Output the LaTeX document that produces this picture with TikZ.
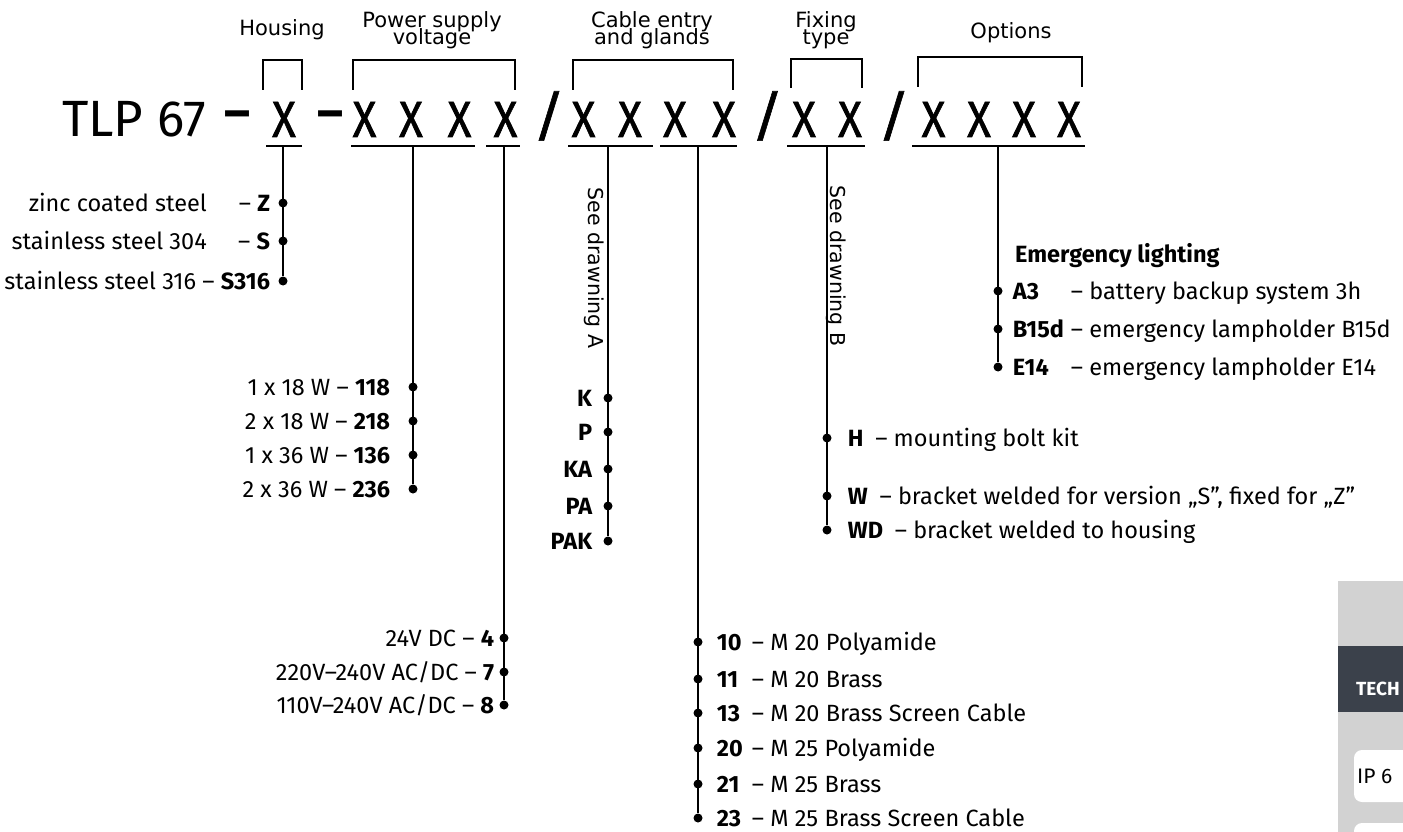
\documentclass[tikz,border=0pt]{standalone}
\usepackage{fontspec}
\setmainfont{Fira Sans}
\newfontfamily\headfont{DejaVu Sans}
\newfontfamily\xfont[FakeStretch=0.86, FakeBold=1.2]{Fira Sans}
\newfontfamily\slashfont[FakeBold=1]{DejaVu Sans}
\usetikzlibrary{positioning}
\definecolor{panelgray}{HTML}{D2D2D2}
\definecolor{paneldark}{HTML}{3B414B}
\newcommand\headsize{\fontsize{21}{16.5}\selectfont\lineskiplimit-30pt\relax}

\begin{document}
\begin{tikzpicture}[x=1pt, y=-1pt,
    bigx/.style={font=\xfont\fontsize{51}{51}\selectfont, inner sep=0pt, anchor=base},
    bigslash/.style={font=\slashfont\fontsize{60}{60}\selectfont, inner sep=0pt, anchor=base},
    bigdash/.style={font=\fontsize{50}{50}\selectfont\bfseries, inner sep=0pt, anchor=base},
    tlp/.style={font=\fontsize{51}{51}\selectfont, inner sep=0pt},
    head/.style={font=\headfont\headsize, align=center, inner sep=0pt},
    seetxt/.style={font=\headfont\fontsize{20.5}{20.5}\selectfont, inner sep=0pt, rotate=-90},
    lbl/.style={font=\fontsize{23.5}{23.5}\selectfont, inner sep=0pt,
        text height=16pt, text depth=0pt},
    codelbl/.style={lbl, font=\fontsize{23.5}{23.5}\selectfont\bfseries},
    dot/.style={circle, fill=black, inner sep=0pt, minimum size=9pt},
    wire/.style={line width=1.3pt},
    thickwire/.style={line width=2.4pt},
    bracketline/.style={line width=1.3pt}
]
\useasboundingbox (0,0) rectangle (1403,832);

% code line
\node[tlp, anchor=base west] (tlp) at (62,137) {TLP 67};
\node[bigdash] (dash1) at (237.5,137) {\raisebox{7pt}{–}};
\node[bigdash] (dash2) at (330.5,137) {\raisebox{7pt}{–}};
\foreach \n/\x in {h1/284, p1/364.5, p2/411, p3/459.5, p4/505.5,
    c1/583.5, c2/630, c3/675, c4/724, f1/804, f2/850,
    o1/933.5, o2/979, o3/1024, o4/1069}
    \node[bigx] (\n) at (\x,137) {X};
\node[bigslash] (sl1) at (549,135) {/};
\node[bigslash] (sl2) at (767.5,135) {/};
\node[bigslash] (sl3) at (894,135) {/};

% group titles
\node[head] (tHousing) at (282,29.5) {Housing};
\node[head] (tPower) at (432,30) {Power supply\\voltage};
\node[head] (tCable) at (652,30) {Cable entry\\and glands};
\node[head] (tFixing) at (826,30) {Fixing\\type};
\node[head] (tOptions) at (1011,32.5) {Options};

% brackets over the groups
\draw[bracketline] (263,90) |- (302,60) -- (302,90);
\draw[bracketline] (353,90) |- (515,60) -- (515,90);
\draw[bracketline] (573,90) |- (733,60) -- (733,90);
\draw[bracketline] (791,88) |- (862,59) -- (862,88);
\draw[bracketline] (918,87) |- (1082,57) -- (1082,87);

% underlines
\draw[wire] (266,146) -- (302,146);
\draw[wire] (351,146) -- (475,146);
\draw[wire] (486,146) -- (520,146);
\draw[wire] (568,146) -- (653,146);
\draw[wire] (660,146) -- (737,146);
\draw[wire] (787,146) -- (865,146);
\draw[wire] (912,146) -- (1085,146);

\coordinate (hTop) at (283,146);
\coordinate (pTop) at (413,146);
\coordinate (vTop) at (504,146);
\coordinate (aTop) at (608,146);
\coordinate (gTop) at (698,146);
\coordinate (fTop) at (827,146);
\coordinate (oTop) at (998,146);

% housing
\node[dot] (hZ) at (283,203) {};
\node[dot] (hS) at (283,241) {};
\node[dot] (hS316) at (283,281) {};
\draw[wire] (hTop) -- (hS316);
\node[lbl, left=8pt of hZ] {– \textbf{Z}};
\node[lbl, left=8pt of hS] {– \textbf{S}};
\node[lbl, left=8pt of hS316] {stainless steel 316 – \textbf{S316}};
\node[lbl, anchor=east] at (207,203) {zinc coated steel};
\node[lbl, anchor=east] at (207,241) {stainless steel 304};

% power
\node[dot] (p118) at (413,387) {};
\node[dot] (p218) at (413,421) {};
\node[dot] (p136) at (413,455) {};
\node[dot] (p236) at (413,489) {};
\draw[wire] (pTop) -- (p236);
\node[lbl, left=18pt of p118] {1 x 18 W – \textbf{118}};
\node[lbl, left=18pt of p218] {2 x 18 W – \textbf{218}};
\node[lbl, left=18pt of p136] {1 x 36 W – \textbf{136}};
\node[lbl, left=18pt of p236] {2 x 36 W – \textbf{236}};

% voltage
\node[dot] (v4) at (504,638) {};
\node[dot] (v7) at (504,672) {};
\node[dot] (v8) at (504,705) {};
\draw[thickwire] (vTop) -- (v8);
\node[lbl, left=5pt of v4] {24V DC – \textbf{4}};
\node[lbl, left=5pt of v7] {220V–240V AC/DC – \textbf{7}};
\node[lbl, left=5pt of v8] {110V–240V AC/DC – \textbf{8}};

% cable entry
\node[dot] (aK) at (608,398) {};
\node[dot] (aP) at (608,432) {};
\node[dot] (aKA) at (608,469) {};
\node[dot] (aPA) at (608,506) {};
\node[dot] (aPAK) at (608,541) {};
\draw[wire] (aTop) -- (aPAK);
\node[codelbl, left=11pt of aK] {K};
\node[codelbl, left=11pt of aP] {P};
\node[codelbl, left=11pt of aKA] {KA};
\node[codelbl, left=11pt of aPA] {PA};
\node[codelbl, left=11pt of aPAK] {PAK};
\node[seetxt] (seeA) at (594,268) {See drawning A};

% glands
\node[dot] (g10) at (698,642) {};
\node[dot] (g11) at (698,679) {};
\node[dot] (g13) at (698,713) {};
\node[dot] (g20) at (698,748) {};
\node[dot] (g21) at (698,784) {};
\node[dot] (g23) at (698,818) {};
\draw[wire] (gTop) -- (g23);
\node[codelbl, right=14pt of g10] {10};
\node[codelbl, right=14pt of g11] {11};
\node[codelbl, right=14pt of g13] {13};
\node[codelbl, right=14pt of g20] {20};
\node[codelbl, right=14pt of g21] {21};
\node[codelbl, right=14pt of g23] {23};
\node[lbl, right=49pt of g10] {– M 20 Polyamide};
\node[lbl, right=49pt of g11] {– M 20 Brass};
\node[lbl, right=49pt of g13] {– M 20 Brass Screen Cable};
\node[lbl, right=49pt of g20] {– M 25 Polyamide};
\node[lbl, right=49pt of g21] {– M 25 Brass};
\node[lbl, right=49pt of g23] {– M 25 Brass Screen Cable};

% fixing
\node[dot] (fH) at (827,438) {};
\node[dot] (fW) at (827,496) {};
\node[dot] (fWD) at (827,530) {};
\draw[wire] (fTop) -- (fWD);
\node[seetxt] (seeB) at (836,266) {See drawning B};
\node[lbl, right=16pt of fH] {\textbf{H}\enspace– mounting bolt kit};
\node[lbl, right=16pt of fW] {\textbf{W}\enspace– bracket welded for version „S”, fixed for „Z”};
\node[lbl, right=16pt of fWD] {\textbf{WD}\enspace– bracket welded to housing};

% options
\node[dot] (oA3) at (998,291) {};
\node[dot] (oB15d) at (998,329) {};
\node[dot] (oE14) at (998,367) {};
\draw[wire] (oTop) -- (oE14);
\node[codelbl, anchor=west] (oTitle) at (1015,254) {Emergency lighting};
\node[codelbl, right=10pt of oA3] {A3};
\node[codelbl, right=10pt of oB15d] {B15d};
\node[codelbl, right=10pt of oE14] {E14};
\node[lbl, right=68pt of oA3] {– battery backup system 3h};
\node[lbl, right=68pt of oB15d] {– emergency lampholder B15d};
\node[lbl, right=68pt of oE14] {– emergency lampholder E14};

% side panel, cut by the page edge
\begin{scope}
\clip (0,0) rectangle (1403,832);
\fill[panelgray] (1338,581) rectangle (1420,840);
\fill[paneldark] (1338,646) rectangle (1420,712);
\node[anchor=base west, inner sep=0pt, text=white,
    font=\fontsize{19}{19}\selectfont\bfseries] (tech) at (1356,695) {TECH};
\fill[white, rounded corners=8pt] (1354,750) rectangle (1440,802);
\fill[white, rounded corners=8pt] (1354,823) rectangle (1440,880);
\node[anchor=base west, inner sep=0pt,
    font=\fontsize{21}{21}\selectfont] (ip) at (1357,783) {IP 6};
\end{scope}
\end{tikzpicture}
\end{document}
